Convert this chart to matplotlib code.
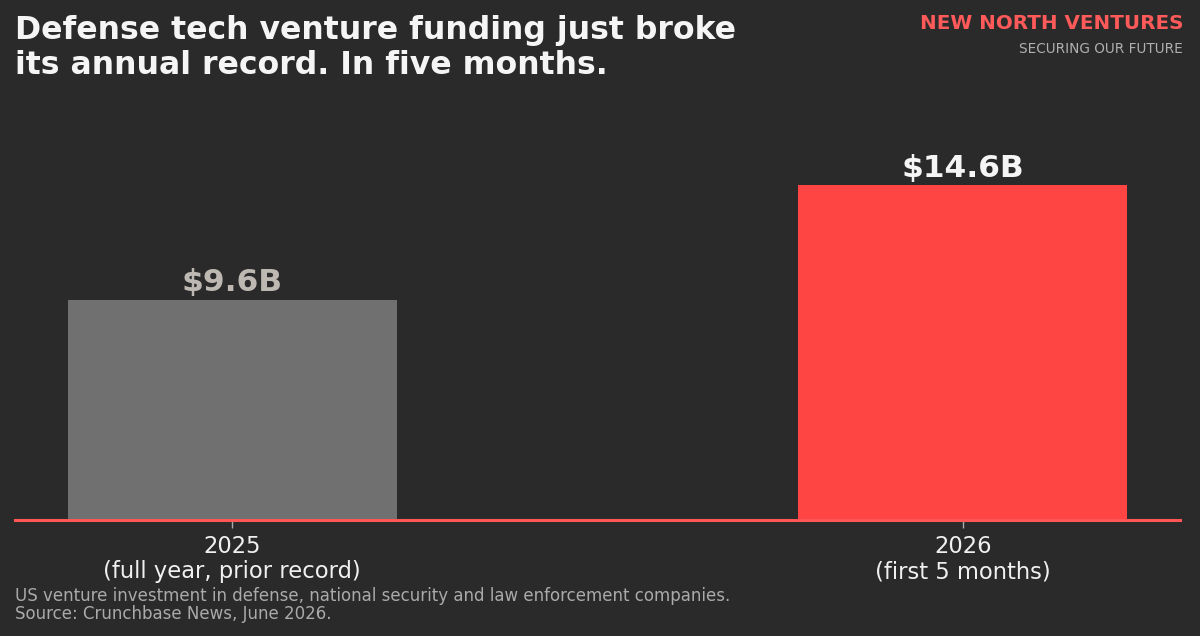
import matplotlib
matplotlib.use("Agg")
import matplotlib.pyplot as plt

categories = ["2025\n(full year, prior record)", "2026\n(first 5 months)"]
values = [9.6, 14.6]
value_labels = ["$9.6B", "$14.6B"]
bar_colors = ["#707070", "#ff4444"]
label_colors = ["#bdb8b2", "#f5f5f5"]

BG = "#2a2a2a"
fig = plt.figure(figsize=(12, 6.36), dpi=100, facecolor=BG)
ax = fig.add_axes([0.0125, 0.1824, 0.9708, 0.62])
ax.set_facecolor(BG)

x = list(range(len(values)))
bars = ax.bar(x, values, width=0.45, color=bar_colors, zorder=2)
for xi, v, lab, c in zip(x, values, value_labels, label_colors):
    ax.text(xi, v + 0.12, lab, ha="center", va="bottom", fontsize=22.5,
            fontweight="bold", color=c)

ax.set_ylim(0, 17.2)
ax.set_xticks(x)
ax.set_xticklabels(categories, fontsize=16.3, color="#f0f0f0", linespacing=1.1)
ax.tick_params(axis="x", colors="#aaaaaa", length=6, width=1, pad=5, labelcolor="#f0f0f0")
ax.set_yticks([])
for s in ["top", "right", "left"]:
    ax.spines[s].set_visible(False)
ax.spines["bottom"].set_color("#999999")
ax.spines["bottom"].set_linewidth(1.2)
ax.axhline(0, color="#ff5555", linewidth=2.2, zorder=3, clip_on=False)

fig.text(0.0125, 0.977, "Defense tech venture funding just broke\nits annual record. In five months.",
         ha="left", va="top", fontsize=22.7, fontweight="bold", color="#f5f5f5",
         linespacing=1.2)
fig.text(0.986, 0.978, "NEW NORTH VENTURES", ha="right", va="top", fontsize=14.3,
         fontweight="bold", color="#ff5a5a")
fig.text(0.986, 0.934, "SECURING OUR FUTURE", ha="right", va="top", fontsize=9.8,
         color="#b0b0b0")
fig.text(0.0125, 0.021, "US venture investment in defense, national security and law enforcement companies.\nSource: Crunchbase News, June 2026.",
         ha="left", va="bottom", fontsize=12, color="#aaaaaa", linespacing=1.0)

fig.savefig("out.png", dpi=100, facecolor=BG)
